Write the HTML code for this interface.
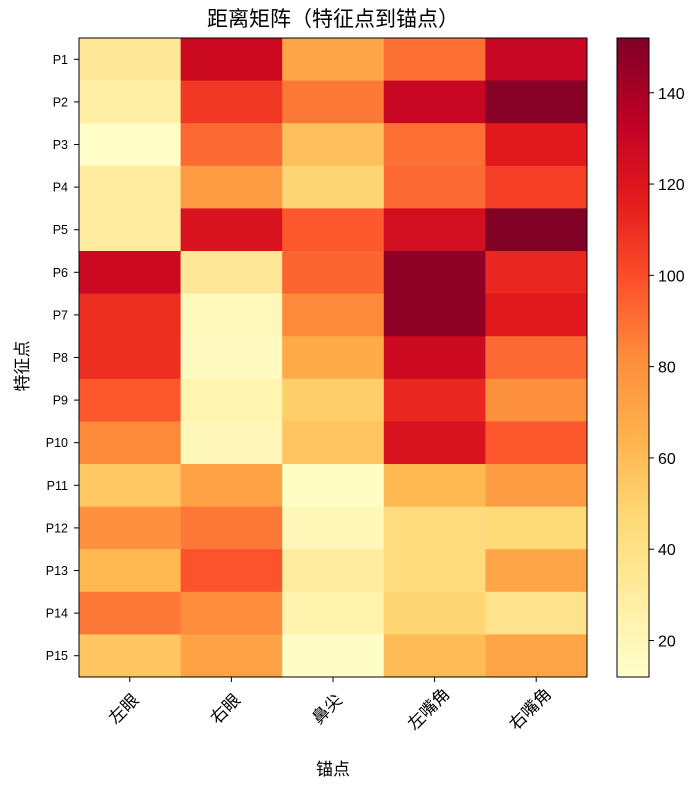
<!DOCTYPE html>
<html><head><meta charset="utf-8"><style>
body{margin:0;background:#fff}
text{font-family:"Liberation Sans","Noto Sans CJK SC",sans-serif;fill:#000}
</style></head><body>
<svg id="chart" width="695" height="783" xmlns="http://www.w3.org/2000/svg">
<text x="333" y="26" font-size="21" text-anchor="middle">距离矩阵（特征点到锚点）</text>
<g id="cells"></g>
<g id="axes"></g>
<text x="333" y="775" font-size="17" text-anchor="middle">锚点</text>
<text x="0" y="0" font-size="17" text-anchor="middle" transform="translate(28,366) rotate(-90)">特征点</text>
</svg>
<script>
const rows=["P1","P2","P3","P4","P5","P6","P7","P8","P9","P10","P11","P12","P13","P14","P15"];
const cols=["左眼","右眼","鼻尖","左嘴角","右嘴角"];
const values=[
[33,128,70,90,130],
[28,107,88,130,150],
[13,92,58,90,118],
[30,75,48,92,105],
[30,122,97,125,152],
[128,33,93,148,113],
[110,18,83,148,118],
[110,17,68,128,92],
[97,23,52,113,80],
[83,19,56,122,97],
[54,72,15,62,75],
[80,88,20,44,46],
[62,98,30,44,70],
[88,82,24,48,38],
[56,72,14,60,70]];
const cbTicks=[20,40,60,80,100,120,140];
const vmin=12,vmax=152;
const stops=["#ffffcc","#ffeda0","#fed976","#feb24c","#fd8d3c","#fc4e2a","#e31a1c","#bd0026","#800026"];
function hex(h){return [1,3,5].map(i=>parseInt(h.substr(i,2),16));}
function cmap(v){let t=Math.max(0,Math.min(1,(v-vmin)/(vmax-vmin)))*(stops.length-1);let i=Math.min(Math.floor(t),stops.length-2),f=t-i;
const a=hex(stops[i]),b=hex(stops[i+1]);return "rgb("+a.map((x,k)=>Math.round(x+(b[k]-x)*f)).join(",")+")";}
const NS="http://www.w3.org/2000/svg";
const L=79,R=587,T=38,B=677;
const cw=(R-L)/cols.length,ch=(B-T)/rows.length;
const xS=j=>L+j*cw, yS=i=>T+i*ch;
const cb={x:617,w:32};
const cbY=v=>B-(v-vmin)/(vmax-vmin)*(B-T);
function mk(tag,attrs,parent){const e=document.createElementNS(NS,tag);for(const k in attrs)e.setAttribute(k,attrs[k]);parent.appendChild(e);return e;}
const cells=document.getElementById('cells'),axes=document.getElementById('axes');
values.forEach((row,i)=>row.forEach((v,j)=>{
 const r=mk('rect',{x:xS(j),y:yS(i),width:cw+0.5,height:ch+0.5,fill:cmap(v)},cells);
 
 
}));
const fr=mk('rect',{x:L,y:T,width:R-L,height:B-T,fill:'none',stroke:'#000','stroke-width':1},axes);


rows.forEach((r,i)=>{
 const y=yS(i)+ch/2;
 mk('line',{x1:L-5,x2:L,y1:y,y2:y,stroke:'#000'},axes);
 const t=mk('text',{x:L-11,y:y+4.5,'font-size':12.5,'text-anchor':'end'},axes);t.textContent=r;
 
 
});
cols.forEach((c,j)=>{
 const x=xS(j)+cw/2;
 mk('line',{x1:x,x2:x,y1:B,y2:B+5,stroke:'#000'},axes);
 const t=mk('text',{x:0,y:0,'font-size':17,'text-anchor':'middle',transform:'translate('+(x-2)+','+(B+36)+') rotate(-45)'},axes);t.textContent=c;
 
 
});
const g=mk('g',{},axes);


for(let y=T;y<B;y+=1){mk('rect',{x:cb.x,y:y,width:cb.w,height:1.3,fill:cmap(vmin+(B-y-0.5)/(B-T)*(vmax-vmin))},g);}
mk('rect',{x:cb.x,y:T,width:cb.w,height:B-T,fill:'none',stroke:'#000'},g);
cbTicks.forEach(v=>{const y=cbY(v);
 mk('line',{x1:cb.x+cb.w,x2:cb.x+cb.w+5,y1:y,y2:y,stroke:'#000'},g);
 const t=mk('text',{x:cb.x+cb.w+9,y:y+6,'font-size':16},g);t.textContent=v;
 
 
});
</script>
</body></html>
